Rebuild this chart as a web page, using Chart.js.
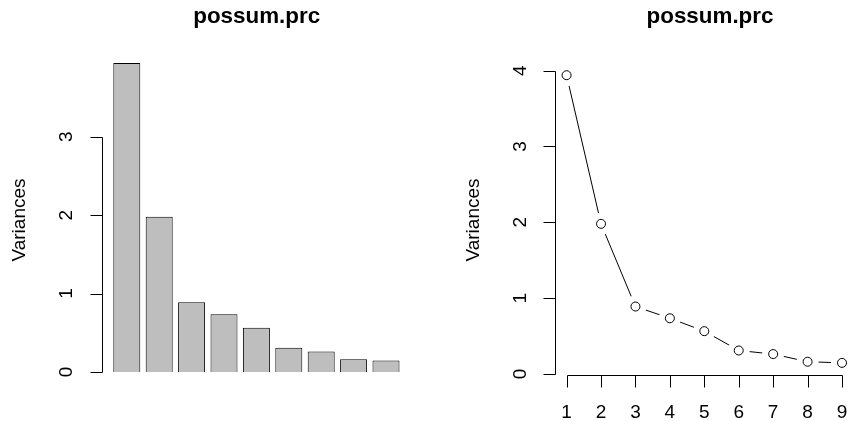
<!DOCTYPE html>
<html>
<head>
<meta charset="utf-8">
<script src="https://cdn.jsdelivr.net/npm/chart.js@4"></script>
<style>
  body { margin: 0; background: #fff; }
  #wrap { position: relative; width: 861px; height: 421px; }
  canvas { position: absolute; top: 0; }
</style>
</head>
<body>
<div id="wrap">
  <canvas id="bars" width="430" height="421" style="left:0"></canvas>
  <canvas id="scree" width="431" height="421" style="left:430px"></canvas>
</div>
<script>
// values
var components = ["1", "2", "3", "4", "5", "6", "7", "8", "9"];
var variances = [3.94, 1.98, 0.89, 0.735, 0.565, 0.31, 0.263, 0.162, 0.147];
var barTicks = [0, 1, 2, 3];
var screeYTicks = [0, 1, 2, 3, 4];
var screeXTicks = [1, 2, 3, 4, 5, 6, 7, 8, 9];
var mainTitle = "possum.prc";
var yTitle = "Variances";

var FONT = "'Liberation Sans', Arial, Helvetica, sans-serif";

// R style axes drawn with the chart's own scales
function rAxes(cfg) {
  return {
    id: "rAxes",
    afterDraw: function (chart) {
      var ctx = chart.ctx;
      var ys = chart.scales.y;
      ctx.save();
      ctx.strokeStyle = "#000";
      ctx.fillStyle = "#000";
      ctx.lineWidth = 1;

      // title
      ctx.font = "bold 22.4px " + FONT;
      ctx.textAlign = "center";
      ctx.textBaseline = "alphabetic";
      ctx.fillText(mainTitle, cfg.titleX, 23);

      // y axis
      var ax = Math.round(cfg.yAxisX) + 0.5;
      var yTop = ys.getPixelForValue(cfg.yTicks[cfg.yTicks.length - 1]);
      var yBot = ys.getPixelForValue(cfg.yTicks[0]);
      ctx.beginPath();
      ctx.moveTo(ax, Math.round(yTop) + 0.5);
      ctx.lineTo(ax, Math.round(yBot) + 0.5);
      cfg.yTicks.forEach(function (t) {
        var py = Math.round(ys.getPixelForValue(t)) + 0.5;
        ctx.moveTo(ax, py);
        ctx.lineTo(ax - 12, py);
      });
      ctx.stroke();

      ctx.font = "19px " + FONT;
      ctx.textAlign = "center";
      ctx.textBaseline = "middle";
      cfg.yTicks.forEach(function (t) {
        var py = ys.getPixelForValue(t);
        ctx.save();
        ctx.translate(cfg.yAxisX - 34.5, py);
        ctx.rotate(-Math.PI / 2);
        ctx.fillText(String(t), 0, 0);
        ctx.restore();
      });

      // y title
      ctx.save();
      ctx.translate(cfg.yAxisX - 81.5, 220);
      ctx.rotate(-Math.PI / 2);
      ctx.fillText(yTitle, 0, 0);
      ctx.restore();

      // x axis (scree plot only)
      if (cfg.xTicks) {
        var xs = chart.scales.x;
        var ay = Math.round(cfg.xAxisY) + 0.5;
        ctx.beginPath();
        ctx.moveTo(Math.round(xs.getPixelForValue(cfg.xTicks[0])) + 0.5, ay);
        ctx.lineTo(Math.round(xs.getPixelForValue(cfg.xTicks[cfg.xTicks.length - 1])) + 0.5, ay);
        cfg.xTicks.forEach(function (t) {
          var px = Math.round(xs.getPixelForValue(t)) + 0.5;
          ctx.moveTo(px, ay);
          ctx.lineTo(px, ay + 12);
        });
        ctx.stroke();
        ctx.textBaseline = "alphabetic";
        cfg.xTicks.forEach(function (t) {
          ctx.fillText(String(t), xs.getPixelForValue(t), 418);
        });
      }
      ctx.restore();
    }
  };
}

// left: bar plot
new Chart(document.getElementById("bars").getContext("2d"), {
  type: "bar",
  data: {
    labels: components,
    datasets: [{
      data: variances,
      backgroundColor: "#bebebe",
      borderColor: "#000",
      borderWidth: 1,
      barPercentage: 1 / 1.2,
      categoryPercentage: 1
    }]
  },
  options: {
    responsive: false,
    animation: false,
    layout: { padding: { left: 110.6, right: 27.8, top: 50, bottom: 37 } },
    scales: {
      x: { display: false },
      y: { display: false, min: -0.153, max: 4.106 }
    },
    plugins: { legend: { display: false }, tooltip: { enabled: false } }
  },
  plugins: [rAxes({ titleX: 256.7, yAxisX: 101.7, yTicks: barTicks })]
});

// right: scree lines
var pts = components.map(function (c, i) { return { x: Number(c), y: variances[i] }; });

new Chart(document.getElementById("scree").getContext("2d"), {
  type: "line",
  data: {
    datasets: [
      { // open circles
        data: pts, showLine: false, pointRadius: 4.5,
        pointBackgroundColor: "#fff", pointBorderColor: "#000", pointBorderWidth: 1, clip: false
      },
      { // white gap around the circles (type = "b")
        data: pts, showLine: false, pointRadius: 11,
        pointBackgroundColor: "#fff", pointBorderColor: "#fff", pointBorderWidth: 0, clip: false
      },
      { // connecting line
        data: pts, showLine: true, pointRadius: 0,
        borderColor: "#000", borderWidth: 1, tension: 0, fill: false, clip: false
      }
    ]
  },
  options: {
    responsive: false,
    animation: false,
    layout: { padding: { left: 125.3, right: 0, top: 63, bottom: 46 } },
    scales: {
      x: { type: "linear", display: false, min: 0.672, max: 9.232 },
      y: { display: false, min: -0.013, max: 4.101 }
    },
    plugins: { legend: { display: false }, tooltip: { enabled: false } }
  },
  plugins: [rAxes({ titleX: 280, yAxisX: 125.3, yTicks: screeYTicks, xTicks: screeXTicks, xAxisY: 375 })]
});
</script>
</body>
</html>
